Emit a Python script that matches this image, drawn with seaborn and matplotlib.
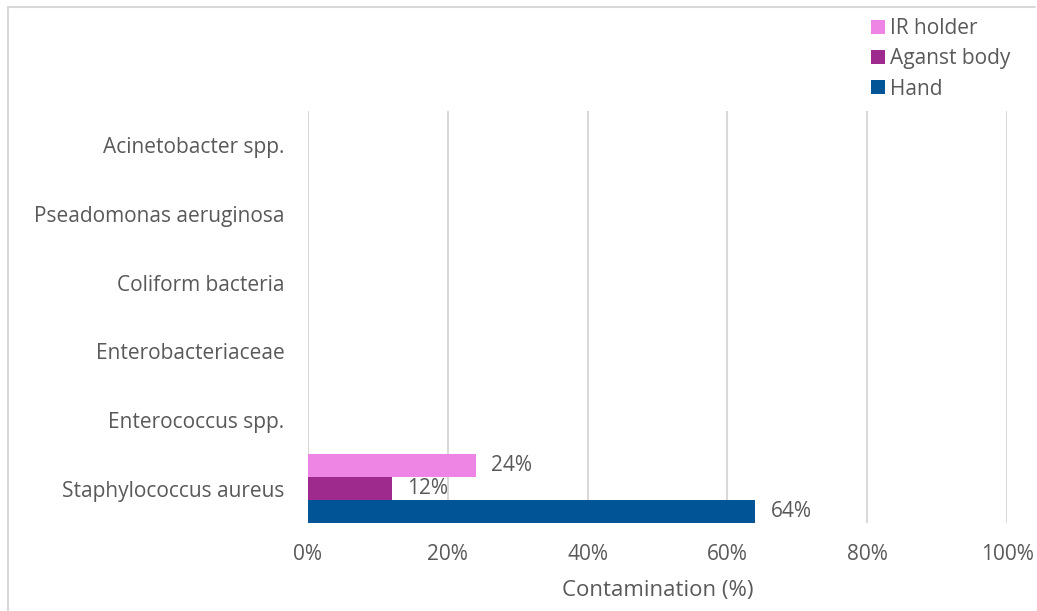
import matplotlib
matplotlib.use("Agg")
import matplotlib.pyplot as plt
from matplotlib.lines import Line2D
from matplotlib.ticker import FuncFormatter
import pandas as pd
import seaborn as sns

# Organisms, listed top to bottom
organisms = [
    "Acinetobacter spp.",
    "Pseadomonas aeruginosa",
    "Coliform bacteria",
    "Enterobacteriaceae",
    "Enterococcus spp.",
    "Staphylococcus aureus",
]
sites = ["IR holder", "Aganst body", "Hand"]

# Contamination (%) per organism for each sampling site
ir_holder = [0, 0, 0, 0, 0, 24]
aganst_body = [0, 0, 0, 0, 0, 12]
hand = [0, 0, 0, 0, 0, 64]

x_ticks = [0, 20, 40, 60, 80, 100]

colors = {"IR holder": "#EE84E4", "Aganst body": "#9E2A8E", "Hand": "#015597"}
text_color = "#595959"
grid_color = "#D9D9D9"
fs = 15

series = {"IR holder": ir_holder, "Aganst body": aganst_body, "Hand": hand}
rows = []
for site, vals in series.items():
    for org, v in zip(organisms, vals):
        rows.append({"organism": org, "site": site, "value": v})
df = pd.DataFrame(rows)

sns.set_theme(style="white")
plt.rcParams["font.family"] = ["Open Sans", "DejaVu Sans"]

W, H = 1037, 611
fig = plt.figure(figsize=(W / 100, H / 100), dpi=100)
ax = fig.add_axes([308 / W, 1 - 523 / H, (1007 - 308) / W, (523 - 111) / H])

sns.barplot(
    data=df, x="value", y="organism", hue="site",
    order=organisms, hue_order=sites, palette=colors,
    orient="h", width=1.0, gap=0, saturation=1, errorbar=None,
    linewidth=0, ax=ax,
)

# value labels only for non-zero bars
for container, site in zip(ax.containers, sites):
    vals = series[site]
    labels = [f"{v:.0f}%" if v > 0 else "" for v in vals]
    ax.bar_label(container, labels=labels, padding=11, fontsize=fs, color=text_color)

ax.set_xlim(0, 100)
ax.set_xticks(x_ticks)
ax.xaxis.set_major_formatter(FuncFormatter(lambda v, p: f"{v:.0f}%"))
ax.grid(axis="x", color=grid_color, linewidth=1.5)
ax.grid(axis="y", visible=False)
ax.set_axisbelow(True)
for s in ax.spines.values():
    s.set_visible(False)
ax.tick_params(axis="x", length=0, pad=15, labelsize=fs, labelcolor=text_color)
ax.tick_params(axis="y", length=0, pad=17, labelsize=fs, labelcolor=text_color)
ax.set_ylabel("")
ax.set_xlabel("Contamination (%)", fontsize=16, color=text_color, labelpad=11)

handles, labels = ax.get_legend_handles_labels()
ax.get_legend().remove()
fig.legend(
    handles, labels, loc="upper left", bbox_to_anchor=(871 / W, 1 - 18 / H),
    frameon=False, fontsize=fs, labelcolor=text_color,
    handlelength=0.65, handleheight=0.65, handletextpad=0.25, labelspacing=0.45,
    borderaxespad=0, borderpad=0,
)

# chart border
fig.add_artist(Line2D([7.5 / W, 7.5 / W], [0, 1 - 7 / H], transform=fig.transFigure,
                      color=grid_color, linewidth=1.5))
fig.add_artist(Line2D([7.5 / W, 1035 / W], [1 - 7 / H, 1 - 7 / H], transform=fig.transFigure,
                      color=grid_color, linewidth=1.5))

fig.savefig("out.png", dpi=100, facecolor="white")
